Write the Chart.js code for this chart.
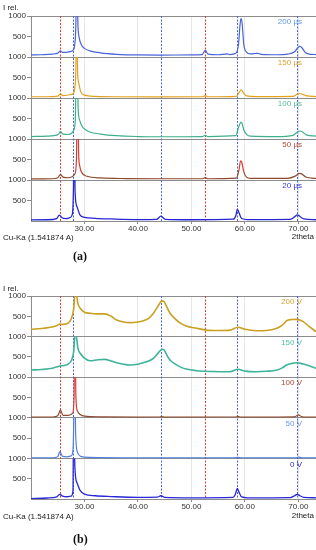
<!DOCTYPE html>
<html>
<head>
<meta charset="utf-8">
<script src="https://cdn.jsdelivr.net/npm/chart.js@4.4.0/dist/chart.umd.min.js"></script>
<style>
  body { margin: 0; background: #fff; width: 316px; height: 550px; position: relative; overflow: hidden;
         font-family: "Liberation Sans", Arial, sans-serif; }
  .box { position: absolute; left: 0; width: 316px; }
  .t { position: absolute; font-size: 8px; color: #222; white-space: nowrap; line-height: 10px; }
  .cap { position: absolute; font-family: "Liberation Serif", serif; font-weight: bold; font-size: 12px; color: #111; }
</style>
</head>
<body>
<div class="box" style="top:0;height:240px"><canvas id="chartA"></canvas></div>
<div class="box" style="top:280px;height:238px"><canvas id="chartB"></canvas></div>

<div class="t" style="left:3px;top:3px">I rel.</div>
<div class="t" style="left:3px;top:233px">Cu-Ka (1.541874 A)</div>
<div class="t" style="right:2px;top:232px">2theta</div>
<div class="cap" style="left:73px;top:249px">(a)</div>

<div class="t" style="left:3px;top:284px">I rel.</div>
<div class="t" style="left:3px;top:512px">Cu-Ka (1.541874 A)</div>
<div class="t" style="right:2px;top:511px">2theta</div>
<div class="cap" style="left:73px;top:532px">(b)</div>

<script>
// 2theta ticks and intensity ticks
const xTicks = [30, 40, 50, 60, 70];
const yTicks = [500, 1000];

// reference positions (dotted lines)
const refRed = [25.5, 52.6];
const refBlue = [27.8, 44.3, 58.5, 69.7];

// panel (a) - pulse duration
const namesA = ['200 µs', '150 µs', '100 µs', '50 µs', '20 µs'];
const us200 = [[20,50],[22,55],[24,70],[25,95],[25.5,150],[25.9,115],[26.5,115],[27.3,130],[27.9,170],[28.2,330],[28.4,900],[28.55,3000],[28.75,900],[29.0,480],[29.5,280],[30,210],[31,150],[33,100],[36,65],[40,50],[44,48],[50,50],[52,60],[52.6,160],[53.1,70],[55,55],[56.3,70],[56.7,75],[57.2,60],[58.3,90],[58.8,300],[59.1,800],[59.3,945],[59.5,800],[59.8,300],[60.3,120],[61,75],[62,85],[62.4,90],[63,65],[66,55],[68,70],[69.3,130],[69.9,230],[70.3,260],[70.7,220],[71.3,110],[72.3,65],[73.3,60]];
const us150 = [[20,30],[23,30],[25,45],[25.5,100],[26,60],[27.3,80],[27.9,110],[28.2,260],[28.4,800],[28.55,3000],[28.7,700],[28.95,350],[29.3,150],[30,70],[32,40],[36,30],[44,28],[52,30],[52.6,60],[53.1,30],[58.4,40],[58.9,130],[59.3,200],[59.7,130],[60.3,50],[62,35],[69,40],[69.8,90],[70.3,110],[70.8,90],[71.6,50],[73.3,35]];
const us100 = [[20,60],[23,70],[25,100],[25.5,180],[26,120],[27,110],[27.6,140],[28,220],[28.3,500],[28.55,3000],[28.8,800],[29.1,460],[29.6,300],[30.1,240],[31,170],[33,120],[36,80],[40,60],[44,55],[52,60],[52.6,90],[53.1,60],[58.3,80],[58.8,280],[59.1,380],[59.3,410],[59.5,370],[59.8,220],[60.4,100],[61,70],[66,60],[69,90],[69.7,160],[70.3,195],[70.8,170],[71.5,100],[73.3,70]];
const us50 = [[20,25],[24,30],[25,55],[25.5,130],[26,70],[27,55],[27.7,80],[28.2,150],[28.5,500],[28.7,3000],[28.9,700],[29.1,350],[29.5,180],[30.5,90],[33,50],[38,35],[44,30],[52,30],[52.6,60],[53.1,30],[58.4,45],[58.9,250],[59.2,470],[59.4,440],[59.8,200],[60.3,70],[61,40],[68,40],[69.5,100],[70.2,160],[70.6,150],[71.3,80],[72.5,45],[73.3,40]];
const us20 = [[20,25],[23,30],[24.8,60],[25.3,145],[25.8,80],[26.6,60],[27.3,80],[27.7,150],[27.95,900],[28.05,3000],[28.25,700],[28.6,350],[29.15,150],[30,90],[32,65],[35,50],[40,35],[43.5,40],[44.3,120],[45.1,40],[50,30],[57.8,45],[58.3,130],[58.6,290],[58.9,200],[59.4,60],[60.5,35],[68.5,40],[69.3,100],[69.8,150],[70.3,110],[71,50],[73.3,30]];

// panel (b) - bias voltage
const namesB = ['200 V', '150 V', '100 V', '50 V', '0 V'];
const v200 = [[20,180],[22,200],[23.6,230],[24.8,270],[25.4,310],[26,300],[27,340],[27.6,460],[28.0,700],[28.3,1200],[28.5,1050],[28.8,800],[29.2,700],[30,600],[31,575],[32.5,560],[33.8,560],[35,500],[36,410],[37.3,360],[38.5,345],[40,360],[41,390],[42,450],[42.9,575],[43.8,760],[44.5,880],[44.9,860],[45.5,700],[46,575],[47,430],[47.8,345],[49,260],[51,205],[52.8,160],[55,150],[57.2,160],[58.7,230],[60,180],[62.2,145],[64,150],[66,205],[67,280],[67.8,390],[68.8,420],[69.7,425],[70.9,370],[72,250],[73.3,120]];
const v150 = [[20,177],[22,190],[24,220],[25.4,276],[26.2,290],[27,330],[27.6,424],[28,650],[28.3,1200],[28.5,1000],[28.8,700],[29.2,590],[30,470],[31,406],[32.5,430],[33.8,440],[35,400],[36,357],[37.3,320],[38.5,300],[40,320],[41,357],[42,400],[42.9,465],[43.8,600],[44.5,690],[44.9,670],[45.5,520],[46,424],[47,320],[47.8,260],[49,200],[51,160],[54,140],[57.2,135],[58.7,195],[60,150],[62.2,135],[64,145],[66,177],[67,230],[67.8,300],[68.8,340],[69.7,357],[70.9,325],[72,280],[73.3,220]];
const v100 = [[20,15],[24,20],[25,50],[25.5,190],[26,60],[27,60],[27.4,75],[27.8,120],[28.05,500],[28.2,3000],[28.4,500],[28.7,160],[29.2,80],[30,40],[33,25],[40,18],[44,20],[44.4,30],[45,18],[58.3,20],[58.7,35],[59.2,18],[69.3,25],[70,70],[70.7,25],[73.3,15]];
const v50 = [[20,12],[24,15],[25,40],[25.4,165],[25.9,50],[26.8,40],[27.5,60],[27.85,200],[28.0,1000],[28.15,3000],[28.35,600],[28.7,150],[29.3,50],[31,25],[40,15],[58,15],[58.7,25],[59.3,15],[69.5,15],[70,32],[70.6,15],[73.3,12]];
const v0 = [[20,10],[23,25],[24.8,55],[25.4,115],[25.9,70],[26.8,55],[27.5,70],[27.85,200],[28.0,3000],[28.2,800],[28.6,400],[29.15,220],[30,120],[32,80],[35,60],[40,40],[43.6,45],[44.3,80],[45,40],[50,30],[57.8,40],[58.2,110],[58.6,260],[58.9,170],[59.4,50],[60.5,30],[68.5,35],[69.3,80],[69.8,115],[70.3,80],[71,40],[73.3,30]];

const AXIS = '#8c8c8c';
const TICKFONT = { family: '"Liberation Sans", Arial, sans-serif', size: 8 };

// dotted reference lines + strip labels
const overlay = {
  id: 'overlay',
  beforeDatasetsDraw(chart, args, opts) {
    const { ctx, chartArea, scales } = chart;
    ctx.save();
    ctx.lineWidth = 1;
    ctx.setLineDash([2, 1.5]);
    opts.refs.forEach(r => {
      r.values.forEach(v => {
        const px = Math.round(scales.x.getPixelForValue(v)) + 0.5;
        ctx.strokeStyle = r.color;
        ctx.beginPath();
        ctx.moveTo(px, chartArea.top);
        ctx.lineTo(px, chartArea.bottom);
        ctx.stroke();
      });
    });
    ctx.restore();
  },
  afterDatasetsDraw(chart, args, opts) {
    const { ctx, chartArea, scales } = chart;
    ctx.save();
    ctx.font = '8px "Liberation Sans", Arial, sans-serif';
    ctx.textAlign = 'right';
    ctx.textBaseline = 'middle';
    opts.names.forEach((n, i) => {
      ctx.fillStyle = opts.textColors[i];
      ctx.fillText(n, chartArea.right - 14, scales['y' + i].top + 6);
    });
    ctx.restore();
  }
};

function makePanel(id, series, names, lineColors, textColors, widths) {
  const scales = {
    x: {
      type: 'linear', min: 20, max: 73.3, position: 'bottom',
      afterBuildTicks: a => { a.ticks = xTicks.map(v => ({ value: v })); },
      ticks: { font: TICKFONT, color: '#333', padding: 0, maxRotation: 0, autoSkip: false,
               callback: v => v.toFixed(2) },
      grid: { color: '#e6e6e6', tickColor: AXIS, tickLength: 3 },
      border: { color: AXIS },
      afterFit: s => { s.height = 19; }
    }
  };
  series.forEach((s, i) => {
    scales['y' + i] = {
      type: 'linear', position: 'left', stack: 'strips', stackWeight: 1, weight: 10 - i,
      min: 0, max: 1000,
      afterBuildTicks: a => { a.ticks = yTicks.map(v => ({ value: v })); },
      ticks: { font: TICKFONT, color: '#333', padding: 1, callback: v => String(v) },
      grid: {
        color: c => (c.tick && c.tick.value === 1000) ? AXIS : 'rgba(0,0,0,0)',
        tickColor: AXIS, tickLength: 4
      },
      border: { color: AXIS },
      afterFit: sc => { sc.width = 31; }
    };
  });

  const datasets = series.map((s, i) => {
    const c = lineColors[i];
    const ds = {
      data: s.map(([x, y]) => ({ x, y })),
      yAxisID: 'y' + i,
      borderColor: Array.isArray(c) ? c[0] : c,
      borderWidth: widths[i],
      pointRadius: 0,
      fill: false,
      cubicInterpolationMode: 'monotone'
    };
    if (Array.isArray(c)) {
      // brown pattern drawn red where intensity is high
      ds.segment = { borderColor: g => (g.p0.parsed.y > 250 || g.p1.parsed.y > 250) ? c[1] : c[0] };
    }
    return ds;
  });

  new Chart(document.getElementById(id), {
    type: 'line',
    data: { datasets },
    options: {
      responsive: true, maintainAspectRatio: false, animation: false,
      layout: { padding: { top: 16, left: 0, right: 0, bottom: 0 } },
      scales,
      plugins: {
        legend: { display: false },
        tooltip: { enabled: false },
        overlay: {
          names, textColors,
          refs: [{ values: refRed, color: '#e03c36' }, { values: refBlue, color: '#4a62e6' }]
        }
      }
    },
    plugins: [overlay]
  });
}

makePanel('chartA', [us200, us150, us100, us50, us20], namesA,
  ['#4763d6', '#e3a11e', '#3fae8c', ['#8e4a2c', '#d83a32'], '#2626d2'],
  ['#5d9be6', '#d9a22e', '#56bca0', '#b24a34', '#3434d6'],
  [1.2, 1.2, 1.2, 1.2, 1.3]);

makePanel('chartB', [v200, v150, v100, v50, v0], namesB,
  ['#c9a020', '#3fb39a', ['#8e4a2c', '#d83a32'], '#4f7fdc', '#2828d6'],
  ['#d4a436', '#52c2a8', '#a84a30', '#6d95e4', '#3030d2'],
  [1.6, 1.6, 1.2, 1.2, 1.3]);
</script>
</body>
</html>
